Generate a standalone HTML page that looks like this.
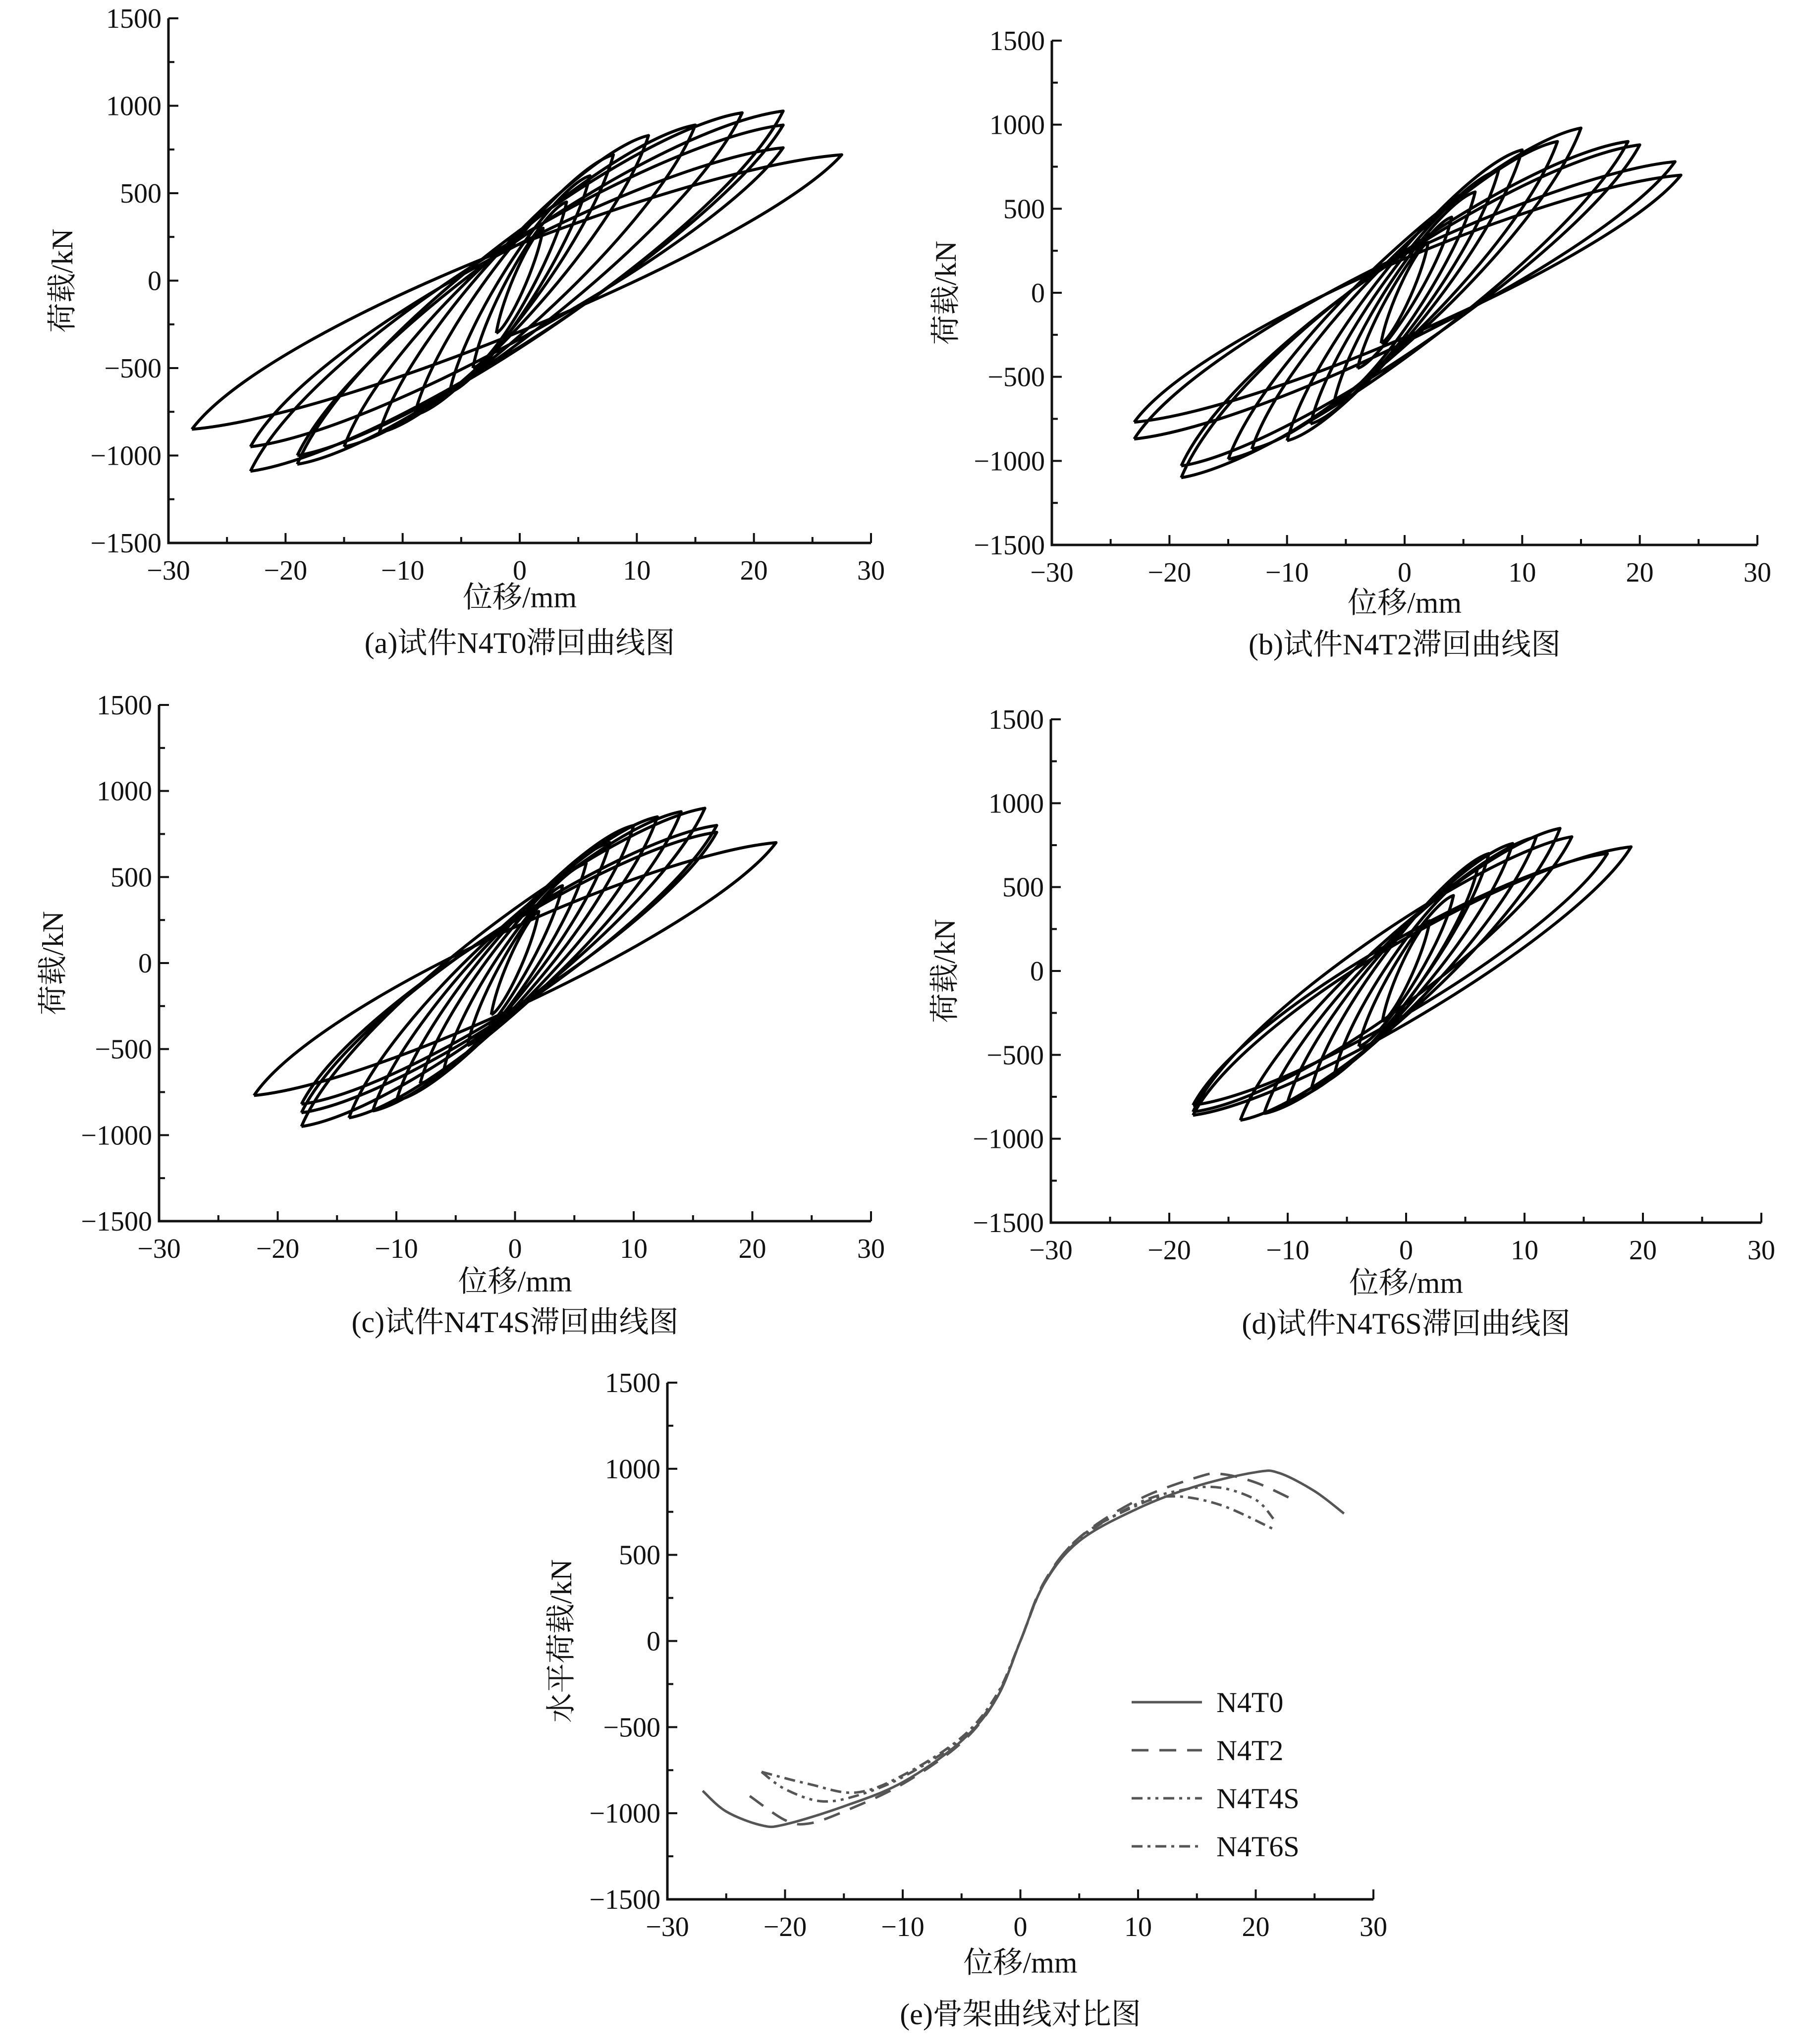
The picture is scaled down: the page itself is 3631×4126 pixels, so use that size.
<!DOCTYPE html>
<html><head><meta charset="utf-8">
<style>
html,body{margin:0;padding:0;background:#fff;}
svg{display:block;}
text{font-family:"Liberation Serif","Noto Serif CJK SC","Noto Sans CJK SC",serif;fill:#111;}
</style></head>
<body>
<svg id="fig" width="3631" height="4126" viewBox="0 0 3631 4126" xmlns="http://www.w3.org/2000/svg">
<rect width="3631" height="4126" fill="#fff"/>
</svg>
<script>
// ---- data: hysteresis cycle peaks ----
const aPosD=[2,4,6,8,11,15,19,22.5,22.5,22.5,27.5];
const aPosF=[300,450,600,720,830,890,960,970,890,760,720];
const aNegD=[-2,-4,-6,-9,-12,-15,-19,-19,-23,-23,-28];
const aNegF=[-300,-500,-640,-770,-870,-950,-1050,-1000,-1090,-950,-850];

const bPosD=[2,4,6,8,10,13,15,19,20,23,23.5];
const bPosF=[300,450,600,730,850,900,980,900,880,780,700];
const bNegD=[-2,-4,-6,-8,-10,-13,-15,-19,-19,-23,-23];
const bNegF=[-300,-450,-650,-780,-880,-930,-990,-1100,-1030,-870,-770];

const cPosD=[2,4,6,8,10,12,14,16,17,17,22];
const cPosF=[300,450,580,700,800,850,880,900,800,760,700];
const cNegD=[-2,-4,-6,-8,-10,-12,-14,-18,-18,-18,-22];
const cNegF=[-300,-480,-620,-700,-800,-860,-900,-950,-870,-820,-770];

const dPosD=[2,4,6,7,9,11,13,14,17,19];
const dPosF=[300,450,600,700,760,800,850,800,700,740];
const dNegD=[-2,-4,-6,-8,-10,-12,-14,-18,-18,-18];
const dNegF=[-300,-450,-600,-700,-780,-850,-890,-840,-800,-860];

// ---- data: skeleton curves ----
const sk0X=[-27,-25,-22,-20,-15,-10,-5,-2,0,2,5,10,15,20,22,25,27.5];
const sk0Y=[-870,-990,-1070,-1065,-960,-820,-580,-330,0,330,580,770,900,980,975,870,740];
const sk2X=[-23,-20,-18,-15,-10,-5,-2,0,2,5,10,15,17,20,23.5];
const sk2Y=[-900,-1040,-1060,-990,-830,-590,-330,0,340,600,820,950,970,920,810];
const sk4X=[-22,-20,-17,-14,-10,-5,-2,0,2,5,10,14,17,20,21.5];
const sk4Y=[-760,-860,-930,-900,-790,-570,-320,0,330,590,800,880,890,820,710];
const sk6X=[-22,-18,-14,-10,-5,-2,0,2,5,10,13,17,21.5];
const sk6Y=[-760,-830,-880,-780,-560,-310,0,330,600,790,840,790,650];

const xTicks=[-30,-20,-10,0,10,20,30];
const yTicks=[-1500,-1000,-500,0,500,1000,1500];
const seriesNames=["N4T0","N4T2","N4T4S","N4T6S"];

const NS="http://www.w3.org/2000/svg";
const fig=document.getElementById('fig');
function mk(tag,attrs,parent){const e=document.createElementNS(NS,tag);for(const k in attrs)e.setAttribute(k,attrs[k]);(parent||fig).appendChild(e);return e;}

function axes(id,L,R,T,B,ytitle,caption,titleOff,capOff){
  const g=mk('g',{});
  
  
  const sx=v=>L+(v+30)/60*(R-L), sy=v=>B-(v+1500)/3000*(B-T);
  const ax=mk('path',{d:`M${L},${T} L${L},${B} L${R},${B}`,stroke:'#111','stroke-width':5,fill:'none'},g);
  
  
  for(let v=-1500;v<=1500;v+=250){const maj=v%500===0;mk('line',{x1:L,x2:L+(maj?20:12),y1:sy(v),y2:sy(v),stroke:'#111','stroke-width':4},g);}
  for(let v=-30;v<=30;v+=5){const maj=v%10===0;mk('line',{x1:sx(v),x2:sx(v),y1:B,y2:B-(maj?20:12),stroke:'#111','stroke-width':4},g);}
  yTicks.forEach(v=>{const t=mk('text',{x:L-14,y:sy(v)+19,'font-size':56,'text-anchor':'end'},g);t.textContent=v<0?'\u2212'+(-v):v;
    
    });
  xTicks.forEach(v=>{const t=mk('text',{x:sx(v),y:B+74,'font-size':56,'text-anchor':'middle'},g);t.textContent=v<0?'\u2212'+(-v):v;
    
    });
  const xt=mk('text',{x:(L+R)/2,y:B+titleOff,'font-size':60,'text-anchor':'middle'},g);xt.textContent='位移/mm';
  
  
  const yx=L-214, yy=(T+B)/2;
  const yt=mk('text',{x:yx,y:yy,'font-size':60,'text-anchor':'middle',transform:`rotate(-90 ${yx} ${yy})`,dy:20},g);yt.textContent=ytitle;
  
  
  const cp=mk('text',{x:(L+R)/2,y:B+capOff,'font-size':60,'text-anchor':'middle'},g);cp.textContent=caption;
  
  
  return {g,sx,sy};
}

function hyst(ax,pd,pf,nd,nf,id){
  const {g,sx,sy}=ax;
  let d='';
  for(let i=0;i<pd.length;i++){
    const dp=pd[i],fp=pf[i],dn=nd[i],fn=nf[i],w=dp-dn;
    d+=`M${sx(dn)},${sy(fn)} C${sx(dn+w*0.12)},${sy(fn*0.3)} ${sx(dp*0.5)},${sy(fp*0.9)} ${sx(dp)},${sy(fp)} `;
    d+=`C${sx(dp-w*0.12)},${sy(fp*0.3)} ${sx(dn*0.5)},${sy(fn*0.9)} ${sx(dn)},${sy(fn)} `;
  }
  const p=mk('path',{d,stroke:'#000','stroke-width':6,fill:'none','stroke-linejoin':'round'},g);
  
  
}

function smooth(pts){
  let d=`M${pts[0][0]},${pts[0][1]}`;
  for(let i=0;i<pts.length-1;i++){
    const p0=pts[Math.max(0,i-1)],p1=pts[i],p2=pts[i+1],p3=pts[Math.min(pts.length-1,i+2)];
    const c1=[p1[0]+(p2[0]-p0[0])/6,p1[1]+(p2[1]-p0[1])/6];
    const c2=[p2[0]-(p3[0]-p1[0])/6,p2[1]-(p3[1]-p1[1])/6];
    d+=` C${c1[0]},${c1[1]} ${c2[0]},${c2[1]} ${p2[0]},${p2[1]}`;
  }
  return d;
}

const A=axes('a',340,1758,37,1096,'荷载/kN','(a)试件N4T0滞回曲线图',130,222);
hyst(A,aPosD,aPosF,aNegD,aNegF,'a');
const Bc=axes('b',2123,3547,82,1100,'荷载/kN','(b)试件N4T2滞回曲线图',137,221);
hyst(Bc,bPosD,bPosF,bNegD,bNegF,'b');
const C=axes('c',321,1758,1423,2465,'荷载/kN','(c)试件N4T4S滞回曲线图',142,224);
hyst(C,cPosD,cPosF,cNegD,cNegF,'c');
const D=axes('d',2121,3555,1452,2468,'荷载/kN','(d)试件N4T6S滞回曲线图',142,224);
hyst(D,dPosD,dPosF,dNegD,dNegF,'d');
const E=axes('e',1347,2772,2791,3834,'水平荷载/kN','(e)骨架曲线对比图',148,252);

const dashes=['none','34 22','22 10 6 10 6 10','22 10 6 10'];
const skX=[sk0X,sk2X,sk4X,sk6X], skY=[sk0Y,sk2Y,sk4Y,sk6Y];
skX.forEach((xs,k)=>{
  const pts=xs.map((x,i)=>[E.sx(x),E.sy(skY[k][i])]);
  const p=mk('path',{d:smooth(pts),stroke:'#555','stroke-width':5,fill:'none','stroke-dasharray':dashes[k],'stroke-linejoin':'round'},E.g);
  
  
  const ly=3436+k*97;
  const ll=mk('line',{x1:2284,x2:2426,y1:ly,y2:ly,stroke:'#555','stroke-width':5,'stroke-dasharray':dashes[k]},E.g);
  
  
  const lt=mk('text',{x:2455,y:ly+20,'font-size':58},E.g);lt.textContent=seriesNames[k];
  
  
});
</script>
</body></html>
